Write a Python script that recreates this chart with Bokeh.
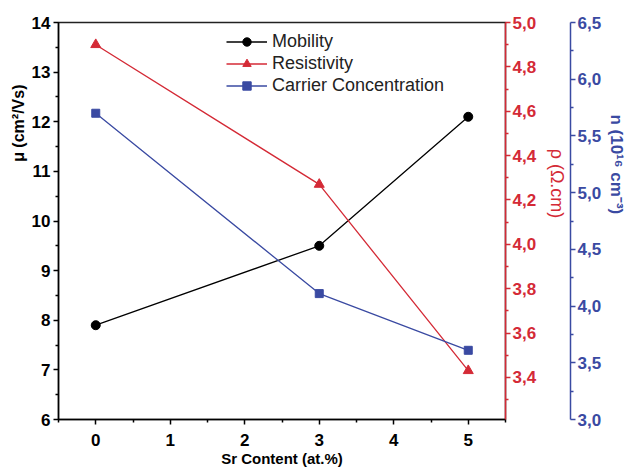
from bokeh.plotting import figure
from bokeh.models import (Range1d, LinearAxis, FixedTicker, CustomJSTickFormatter, Legend)
from bokeh.embed import file_html
from bokeh.resources import INLINE

# Data
sr_content = [0, 3, 5]
mobility = [7.9, 9.5, 12.1]
resistivity = [4.90, 4.27, 3.43]
carrier = [5.70, 4.11, 3.61]

x_ticks = [0, 1, 2, 3, 4, 5]
mu_ticks = [6, 7, 8, 9, 10, 11, 12, 13, 14]
rho_ticks = [3.4, 3.6, 3.8, 4.0, 4.2, 4.4, 4.6, 4.8, 5.0]
n_ticks = [3.0, 3.5, 4.0, 4.5, 5.0, 5.5, 6.0, 6.5]

BLACK = "#000000"
RED = "#d42a36"
BLUE = "#3a4aa2"
FONT = "Liberation Sans"
NB = "\u00a0"

p = figure(width=629, height=469, output_backend="svg", toolbar_location=None,
           x_range=Range1d(-0.5, 5.5), y_range=Range1d(6, 14),
           min_border_left=58, min_border_top=22, min_border_bottom=46,
           min_border_right=123)
p.grid.visible = False
p.outline_line_color = "#222222"
p.outline_line_width = 1.5
p.background_fill_color = "white"
p.border_fill_color = "white"

p.extra_y_ranges = {"rho": Range1d(3.21, 5.0), "n": Range1d(3.0, 6.5)}

comma_fmt = CustomJSTickFormatter(code="return tick.toFixed(1).replace('.', ',');")


def style_axis(ax, color, label_bold=True, title_size="15px"):
    ax.axis_line_color = color
    ax.axis_line_width = 1.5
    ax.major_tick_line_color = color
    ax.minor_tick_line_color = color
    ax.major_tick_line_width = 1.5
    ax.minor_tick_line_width = 1.5
    ax.major_tick_out = 5
    ax.major_tick_in = 0
    ax.minor_tick_out = 3
    ax.minor_tick_in = 0
    ax.major_label_text_color = color
    ax.major_label_text_font = FONT
    ax.major_label_text_font_style = "bold"
    ax.major_label_text_font_size = "17px"
    ax.axis_label_text_color = color
    ax.axis_label_text_font = FONT
    ax.axis_label_text_font_style = "bold" if label_bold else "normal"
    ax.axis_label_text_font_size = title_size


# bottom axis
xa = p.xaxis[0]
xa.ticker = FixedTicker(ticks=x_ticks, minor_ticks=[v + 0.5 for v in [-1] + x_ticks])
xa.axis_label = "Sr Content (at.%)"
style_axis(xa, BLACK, title_size="15px")
xa.axis_label_standoff = 1
xa.major_label_standoff = 9

# left axis
ya = p.yaxis[0]
ya.ticker = FixedTicker(ticks=mu_ticks, minor_ticks=[v + 0.5 for v in mu_ticks[:-1]])
ya.axis_label = NB * 44 + "μ (cm²/Vs)"
style_axis(ya, BLACK, title_size="16px")
ya.axis_label_standoff = 2
ya.major_label_standoff = 3

# red axis
ra = LinearAxis(y_range_name="rho", axis_label="ρ (Ω.cm)" + NB * 15)
ra.ticker = FixedTicker(ticks=rho_ticks, minor_ticks=[round(v - 0.1, 1) for v in rho_ticks])
ra.formatter = comma_fmt
style_axis(ra, RED, label_bold=False, title_size="18px")
ra.axis_label_standoff = 8
ra.major_label_standoff = 2
p.add_layout(ra, "right")

# blue axis
ba = LinearAxis(y_range_name="n", axis_label="n (10¹⁶ cm⁻³)" + NB * 24)
ba.ticker = FixedTicker(ticks=n_ticks, minor_ticks=[v + 0.25 for v in n_ticks[:-1]])
ba.formatter = comma_fmt
style_axis(ba, BLUE, title_size="17px")
ba.axis_label_standoff = 3
ba.major_label_standoff = 2
p.add_layout(ba, "right")

# series
l1 = p.line(sr_content, mobility, line_color=BLACK, line_width=1.3)
s1 = p.scatter(sr_content, mobility, marker="circle", size=9, fill_color=BLACK, line_color=BLACK)
l2 = p.line(sr_content, resistivity, line_color=RED, line_width=1.3, y_range_name="rho")
s2 = p.scatter(sr_content, resistivity, marker="triangle", size=10, fill_color=RED, line_color=RED,
               y_range_name="rho")
l3 = p.line(sr_content, carrier, line_color=BLUE, line_width=1.3, y_range_name="n")
s3 = p.scatter(sr_content, carrier, marker="square", size=8, fill_color=BLUE, line_color=BLUE,
               y_range_name="n")

legend = Legend(items=[("Mobility", [l1, s1]), ("Resistivity", [l2, s2]),
                       ("Carrier Concentration", [l3, s3])],
                location=(168, 323))
legend.border_line_color = None
legend.background_fill_alpha = 0
legend.padding = 0
legend.margin = 0
legend.spacing = 1
legend.glyph_width = 41
legend.glyph_height = 21
legend.label_standoff = 5
legend.label_text_font = FONT
legend.label_text_font_size = "18px"
legend.label_text_color = "#222222"
p.add_layout(legend, "center")

open("out.html", "w").write(file_html(p, INLINE))
